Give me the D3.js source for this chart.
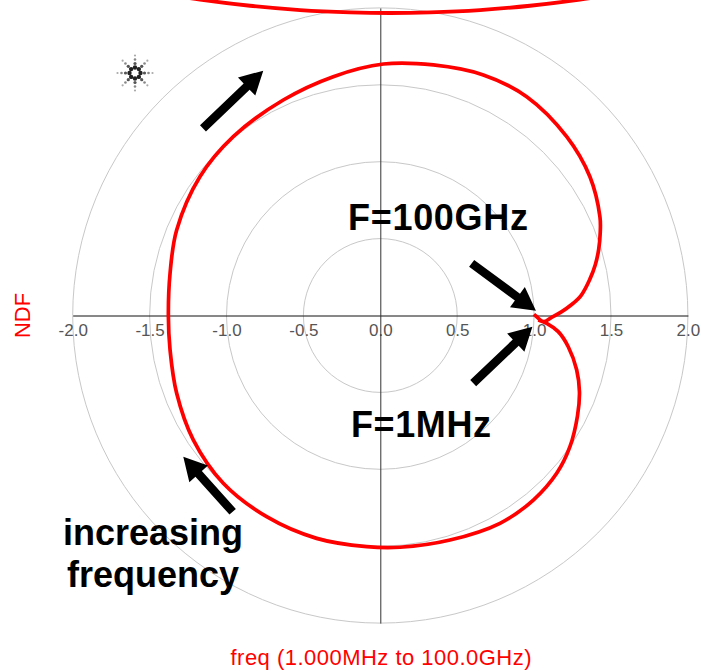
<!DOCTYPE html>
<html>
<head>
<meta charset="utf-8">
<script src="https://cdn.jsdelivr.net/npm/d3@7"></script>
<style>
  html, body { margin: 0; padding: 0; background: #fff; }
  svg { display: block; font-family: "Liberation Sans", Arial, sans-serif; }
</style>
</head>
<body>
<svg id="chart" width="701" height="671"></svg>
<script>
// NDF trace, 1 MHz -> 100 GHz (real / imaginary parts)
const ndfRe = [1.027, 1.082, 1.157, 1.222, 1.277, 1.295, 1.282, 1.233, 1.147, 0.995,
  0.778, 0.453, 0.128, -0.088, -0.414, -0.739, -1.021, -1.216, -1.324, -1.367,
  -1.378, -1.367, -1.324, -1.173, -0.956, -0.631, -0.306, 0.020, 0.345, 0.670,
  0.952, 1.212, 1.363, 1.428, 1.430, 1.420, 1.398, 1.362, 1.305, 1.240, 1.180, 1.114, 1.060, 1.017, 0.999];
const ndfIm = [-0.029, -0.051, -0.105, -0.203, -0.354, -0.497, -0.653, -0.853, -1.026, -1.200,
  -1.351, -1.460, -1.507, -1.503, -1.449, -1.308, -1.091, -0.809, -0.506, -0.224,
  0.000, 0.274, 0.556, 0.902, 1.163, 1.401, 1.553, 1.635, 1.629, 1.564,
  1.423, 1.163, 0.902, 0.642, 0.540, 0.430, 0.330, 0.235, 0.130, 0.068, 0.025, -0.012, -0.040, -0.008, 0.008];

// second trace, only its lower edge falls inside the view
const outerRe = [-1.497, -1.172, -0.847, -0.522, -0.197, 0.063, 0.323, 0.648, 0.973, 1.298, 1.623];
const outerIm = [2.105, 2.054, 2.014, 1.986, 1.971, 1.967, 1.971, 1.986, 2.014, 2.054, 2.105];

// grid rings and axis ticks
const rings = [0.5, 1.0, 1.5, 2.0];
const tickValues = [-2.0, -1.5, -1.0, -0.5, 0.0, 0.5, 1.0, 1.5, 2.0];

const svg = d3.select("#chart");
const x = d3.scaleLinear().domain([-2, 2]).range([72.7, 687.9]);
const y = d3.scaleLinear().domain([-2, 2]).range([623.1, 7.9]);
const r = v => x(v) - x(0);

// grid circles
svg.append("g").selectAll("circle").data(rings).join("circle")
  .attr("cx", x(0)).attr("cy", y(0)).attr("r", d => r(d))
  .attr("fill", "none").attr("stroke", "#c8c8c8").attr("stroke-width", 1);

// horizontal axis with labels
const xAxis = svg.append("g")
  .attr("transform", `translate(0,${y(0)})`)
  .call(d3.axisBottom(x).tickValues(tickValues).tickSize(0).tickSizeOuter(0)
    .tickPadding(8).tickFormat(d => d.toFixed(1)));
xAxis.select(".domain").attr("stroke", "#111");
xAxis.selectAll("text").attr("font-size", 17).attr("fill", "#555")
  .attr("font-family", "Liberation Sans, Arial, sans-serif");

// vertical axis line
const yAxis = svg.append("g")
  .attr("transform", `translate(${x(0)},0)`)
  .call(d3.axisLeft(y).tickValues([]).tickSize(0).tickSizeOuter(0));
yAxis.select(".domain").attr("stroke", "#333");

// traces
const line = d3.line().x(d => x(d[0])).y(d => y(d[1])).curve(d3.curveCatmullRom.alpha(0.5));
svg.append("path").datum(outerRe.map((v, i) => [v, outerIm[i]]))
  .attr("d", line).attr("fill", "none").attr("stroke", "#ff0000").attr("stroke-width", 3.8);
svg.append("path").datum(ndfRe.map((v, i) => [v, ndfIm[i]]))
  .attr("d", line).attr("fill", "none").attr("stroke", "#ff0000")
  .attr("stroke-width", 3.7).attr("stroke-linejoin", "round");

// axis titles
svg.append("text").attr("x", 381).attr("y", 665).attr("text-anchor", "middle")
  .attr("font-size", 22).attr("fill", "#ff0000").attr("textLength", 301)
  .text("freq (1.000MHz to 100.0GHz)");
svg.append("text").attr("transform", `translate(30,${y(0)}) rotate(-90)`)
  .attr("text-anchor", "middle").attr("font-size", 22).attr("fill", "#ff0000")
  .text("NDF");

// annotation arrows (tail -> tip), in plot units
const arrows = [
  [[-1.153, 1.217], [-0.761, 1.592]],
  [[0.594, 0.339], [1.012, 0.031]],
  [[0.604, -0.440], [0.989, -0.073]],
  [[-0.960, -1.276], [-1.281, -0.918]]
];
function arrowPath(t, h) {
  const x1 = x(t[0]), y1 = y(t[1]), x2 = x(h[0]), y2 = y(h[1]);
  const len = Math.hypot(x2 - x1, y2 - y1);
  const ux = (x2 - x1) / len, uy = (y2 - y1) / len, px = -uy, py = ux;
  const sw = 4.3, hw = 12.5, hl = 23;
  const bx = x2 - ux * hl, by = y2 - uy * hl;
  const pts = [
    [x1 + px * sw, y1 + py * sw], [bx + px * sw, by + py * sw], [bx + px * hw, by + py * hw],
    [x2, y2], [bx - px * hw, by - py * hw], [bx - px * sw, by - py * sw], [x1 - px * sw, y1 - py * sw]
  ];
  return "M" + pts.map(p => p.join(",")).join("L") + "Z";
}
svg.append("g").selectAll("path").data(arrows).join("path")
  .attr("d", d => arrowPath(d[0], d[1])).attr("fill", "#000");

// annotation labels
const bold = sel => sel.attr("font-weight", "bold").attr("font-size", 36).attr("fill", "#000");
svg.append("text").attr("x", 348).attr("y", 230).attr("textLength", 180).text("F=100GHz").call(bold);
svg.append("text").attr("x", 351).attr("y", 437).attr("textLength", 140).text("F=1MHz").call(bold);
svg.append("text").attr("x", 153).attr("y", 545).attr("text-anchor", "middle").text("increasing").call(bold);
svg.append("text").attr("x", 153).attr("y", 587).attr("text-anchor", "middle").text("frequency").call(bold);

// spark logo
const logo = svg.append("g").attr("transform", "translate(135,73)");
const rays = d3.range(8).map(i => i * Math.PI / 4);
const dots = [[5.5, 2.2, "#222"], [9.5, 1.6, "#555"], [13.5, 1.3, "#888"], [17.5, 1.1, "#aaa"]];
rays.forEach(a => dots.forEach(([rr, s, c]) => {
  logo.append("circle").attr("cx", rr * Math.cos(a)).attr("cy", rr * Math.sin(a))
    .attr("r", s).attr("fill", c);
}));
</script>
</body>
</html>
